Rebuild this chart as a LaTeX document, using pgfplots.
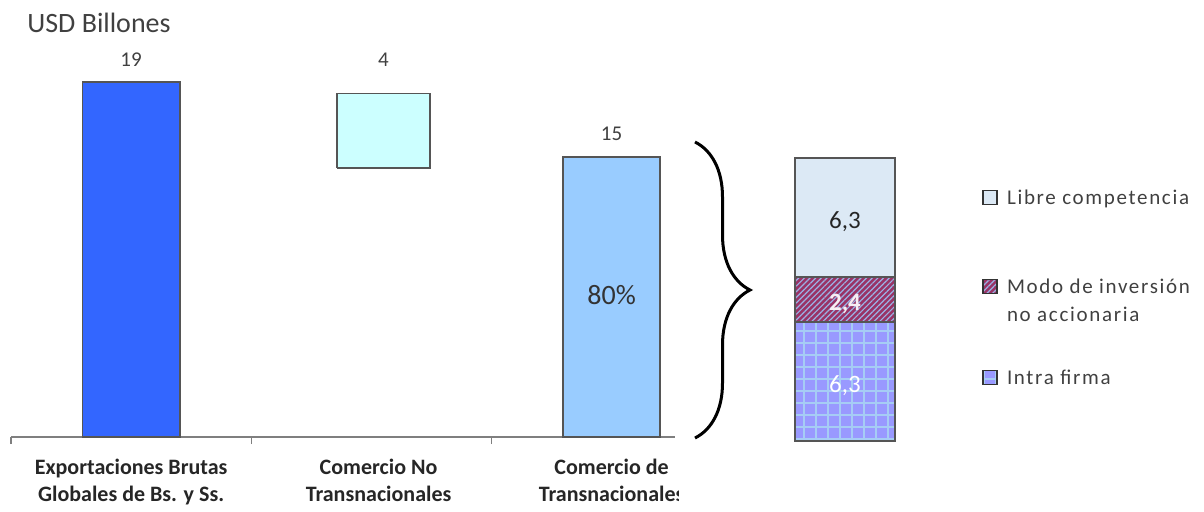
\documentclass[border=0pt]{standalone}
\usepackage{fontspec}
\setmainfont{Carlito}
\newfontfamily\legfont[LetterSpace=8]{Carlito}
\usepackage{pgfplots}
\pgfplotsset{compat=1.18}
\usetikzlibrary{patterns.meta,decorations.pathreplacing}

\definecolor{expo}{HTML}{3366FF}
\definecolor{nocol}{HTML}{CCFFFF}
\definecolor{trans}{HTML}{99CCFF}
\definecolor{libre}{HTML}{DCE9F5}
\definecolor{modo}{HTML}{993366}
\definecolor{stripe}{HTML}{99B3E6}
\definecolor{intra}{HTML}{9999FF}
\definecolor{gridc}{HTML}{A6CCF5}
\definecolor{bordergray}{HTML}{555555}
\definecolor{axisgray}{HTML}{7F7F7F}
\definecolor{txtgray}{HTML}{404040}

\begin{document}
\begin{tikzpicture}
% 1 px of the reference = 0.5pt
\path[use as bounding box] (0,0) rectangle (602pt,255.5pt);
\node[anchor=base west, inner sep=0pt, text=txtgray,
      font=\fontsize{14}{16}\selectfont] at (13.5pt,239.5pt) {USD Billones};

\begin{axis}[
  at={(5.5pt,37pt)}, anchor=south west,
  scale only axis, width=332pt, height=186.8pt,
  xmin=-0.5, xmax=2.264, ymin=0, ymax=20,
  clip=false,
  axis x line=bottom, axis y line=none,
  axis line style={-, draw=axisgray, line width=0.6pt},
  xtick={0,1.03,2},
  xticklabels={{Exportaciones Brutas\\Globales de Bs. y Ss.},
               {Comercio No\\Transnacionales},
               {Comercio de\\Transnacionales}},
  xticklabel style={align=center, text=black!85,
                    font=\bfseries\fontsize{11}{13.5}\selectfont, yshift=-7.5pt},
  major tick length=0pt,
  minor xtick={-0.5,0.5,1.5},
  minor tick length=3.5pt, tick align=outside,
  minor tick style={draw=axisgray, line width=0.6pt},
  ytick=\empty,
]
\addplot[ybar, bar width=0.405, bar shift=0pt, fill=expo, draw=bordergray, line width=0.75pt]
  coordinates {(0,19)};
\addplot[ybar, bar width=0.405, bar shift=0pt, fill=trans, draw=bordergray, line width=0.75pt]
  coordinates {(2,15)};
% floating bar: 4 units
\addplot[fill=nocol, draw=bordergray, line width=0.75pt, line join=miter]
  coordinates {(0.857,14.4) (1.245,14.4) (1.245,18.4) (0.857,18.4) (0.857,14.4)};

\node[text=txtgray, font=\fontsize{10.5}{12}\selectfont] at (axis cs:0,20.18) {19};
\node[text=txtgray, font=\fontsize{10.5}{12}\selectfont] at (axis cs:1.05,20.18) {4};
\node[text=txtgray, font=\fontsize{10.5}{12}\selectfont] at (axis cs:2,16.22) {15};
\node[text=txtgray!80!black, font=\fontsize{14}{16}\selectfont] at (axis cs:2,7.6) {80\%};
\end{axis}

\begin{axis}[
  at={(397.5pt,35pt)}, anchor=south west,
  scale only axis, width=50pt, height=141.5pt,
  xmin=-0.5, xmax=0.5, ymin=0, ymax=15,
  hide axis, clip=false,
  ybar stacked, bar width=1,
  every axis plot/.append style={draw=bordergray, line width=0.75pt,
    legend image code/.code={\draw[##1, draw=black!80, line width=0.6pt] (0pt,0pt) rectangle (7pt,7pt);
      \pgfpathmoveto{\pgfqpoint{12pt}{0pt}}\pgfusepath{discard}}},
  every node near coord/.append style={anchor=center, yshift=-2pt, font=\fontsize{12.5}{14}\selectfont},
  reverse legend,
  legend style={at={(1.87,0.89)}, anchor=north west, draw=none, fill=none,
    inner sep=0pt, row sep=33.5pt, text=txtgray,
    font=\legfont\fontsize{10.5}{14}\selectfont,
    nodes={inner sep=0pt, anchor=base west}},
]
\addplot[fill=intra, postaction={pattern={Hatch[angle=0, distance=6pt, line width=0.8pt]}, pattern color=gridc},
  nodes near coords={6,3}, every node near coord/.append style={text=white}]
  coordinates {(0,6.3)};
\addplot[fill=modo, postaction={pattern={Lines[angle=45, distance=2pt, line width=0.6pt]}, pattern color=stripe},
  nodes near coords={2,4}, every node near coord/.append style={text=white!92!modo, font=\bfseries\fontsize{12.5}{14}\selectfont}]
  coordinates {(0,2.4)};
\addplot[fill=libre,
  nodes near coords={6,3}, every node near coord/.append style={text=black!85}]
  coordinates {(0,6.3)};
\addlegendentry{Intra firma\rule{0pt}{10.5pt}}
\addlegendentry{\begin{tabular}[t]{@{}l@{}}Modo de inversión\\no accionaria\end{tabular}}
\addlegendentry{Libre competencia}
\end{axis}

% the third category label is cut off in the reference
\fill[white] (339.5pt,0pt) rectangle (380pt,31pt);
\draw[decorate, decoration={brace, amplitude=27.5pt}, line width=1.5pt]
  (347.5pt,184.5pt) -- (347.5pt,36.5pt);
\end{tikzpicture}
\end{document}
